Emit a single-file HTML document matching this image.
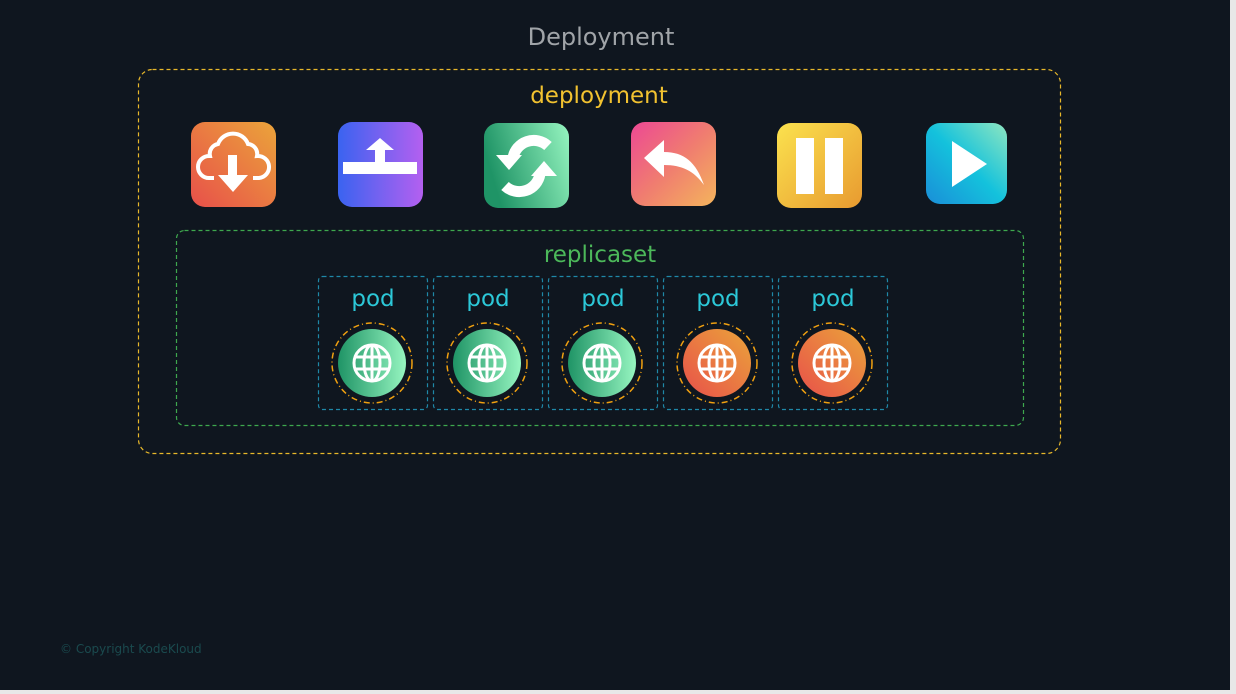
<!DOCTYPE html>
<html><head><meta charset="utf-8"><style>
html,body{margin:0;padding:0;background:#fff;}
svg{display:block;font-family:"DejaVu Sans","Liberation Sans",sans-serif;}
</style></head><body>
<svg width="1236" height="694" viewBox="0 0 1236 694" xmlns="http://www.w3.org/2000/svg">
<defs>
<linearGradient id="g1" x1="0" y1="1" x2="1" y2="0"><stop offset="0" stop-color="#e8504a"/><stop offset="1" stop-color="#eba43a"/></linearGradient>
<linearGradient id="g2" x1="0" y1="0" x2="1" y2="0"><stop offset="0" stop-color="#3a63f0"/><stop offset="1" stop-color="#b460f0"/></linearGradient>
<linearGradient id="g3" x1="0" y1="0.3" x2="1" y2="0"><stop offset="0" stop-color="#1f9466"/><stop offset="1" stop-color="#96f5c0"/></linearGradient>
<linearGradient id="g4" x1="0" y1="0" x2="1" y2="1"><stop offset="0" stop-color="#ec4894"/><stop offset="0.5" stop-color="#f07c70"/><stop offset="1" stop-color="#f4b45c"/></linearGradient>
<linearGradient id="g5" x1="0" y1="0" x2="1" y2="1"><stop offset="0" stop-color="#fbe24e"/><stop offset="1" stop-color="#e89a30"/></linearGradient>
<linearGradient id="g6" x1="0" y1="1" x2="1" y2="0"><stop offset="0" stop-color="#1a8ed8"/><stop offset="0.5" stop-color="#14c2dc"/><stop offset="1" stop-color="#8ee6c0"/></linearGradient>
<linearGradient id="pg" x1="0" y1="0" x2="1" y2="0"><stop offset="0" stop-color="#1f9466"/><stop offset="1" stop-color="#96f5c0"/></linearGradient>
<linearGradient id="po" x1="0" y1="1" x2="1" y2="0"><stop offset="0" stop-color="#e8504a"/><stop offset="1" stop-color="#eba43a"/></linearGradient>
<g id="globe" fill="none" stroke="#fff" stroke-width="3">
<circle cx="0" cy="0" r="18"/><ellipse cx="0" cy="0" rx="8" ry="18"/><line x1="0" y1="-18" x2="0" y2="18"/><line x1="-17" y1="-6" x2="17" y2="-6"/><line x1="-17" y1="6" x2="17" y2="6"/>
</g>
</defs>
<rect width="1236" height="694" fill="#e8e8e8"/>
<rect width="1230" height="690" fill="#0f161f"/>
<text x="601" y="45" font-size="24" fill="#a0a4a8" text-anchor="middle">Deployment</text>
<rect x="138.5" y="69.5" width="922" height="384" rx="14" fill="none" stroke="#e8b82a" stroke-width="1.2" stroke-dasharray="4,3"/>
<text x="599" y="103" font-size="23" fill="#f2c230" text-anchor="middle">deployment</text>
<rect x="191" y="122" width="85" height="85" rx="14" fill="url(#g1)"/>
<path d="M214 178 h-5 a11 11 0 0 1 0-22 h1 a10 10 0 0 1 8-12 a16 16 0 0 1 30 0 a10 10 0 0 1 9 12 a11 11 0 0 1 2 22 h-6" fill="none" stroke="#fff" stroke-width="4"/>
<path d="M228 155 h9 v20 h11 l-15 17 l-15-17 h10z" fill="#fff"/>
<rect x="338" y="122" width="85" height="85" rx="14" fill="url(#g2)"/>
<rect x="343" y="162" width="74" height="12" fill="#fff"/>
<path d="M375 162 v-12 h-9 l14-12 l14 12 h-9 v12z" fill="#fff"/>
<rect x="484" y="123" width="85" height="85" rx="14" fill="url(#g3)"/>
<path d="M513 158 a21 21 0 0 1 35-12" fill="none" stroke="#fff" stroke-width="11"/>
<path d="M496 155 h26 l-13 15z" fill="#fff"/>
<path d="M540 174 a21 21 0 0 1 -35 12" fill="none" stroke="#fff" stroke-width="11"/>
<path d="M531 176 h26 l-13 -15z" fill="#fff"/>
<rect x="631" y="122" width="85" height="84" rx="14" fill="url(#g4)"/>
<path d="M644 158 l20-18 v12 c20 0 32 10 40 33 c-10-14-22-20-40-20 v12z" fill="#fff"/>
<rect x="777" y="123" width="85" height="85" rx="14" fill="url(#g5)"/>
<rect x="796" y="138" width="18" height="56" fill="#fff"/><rect x="825" y="138" width="18" height="56" fill="#fff"/>
<rect x="926" y="123" width="81" height="81" rx="14" fill="url(#g6)"/>
<path d="M952 141 l35 23 l-35 23z" fill="#fff"/>
<rect x="176.5" y="230.5" width="847" height="195" rx="8" fill="none" stroke="#3ea84e" stroke-width="1.2" stroke-dasharray="4,3"/>
<text x="600" y="262" font-size="23" fill="#4cb85a" text-anchor="middle">replicaset</text>
<g font-size="23" fill="#2cc8d8" text-anchor="middle">
<g fill="none" stroke="#1f88a8" stroke-width="1.2" stroke-dasharray="4,3">
<rect x="318.5" y="276.5" width="109" height="133" rx="4"/>
<rect x="433.5" y="276.5" width="109" height="133" rx="4"/>
<rect x="548.5" y="276.5" width="109" height="133" rx="4"/>
<rect x="663.5" y="276.5" width="109" height="133" rx="4"/>
<rect x="778.5" y="276.5" width="109" height="133" rx="4"/>
</g>
<text x="373" y="306">pod</text><text x="488" y="306">pod</text><text x="603" y="306">pod</text><text x="718" y="306">pod</text><text x="833" y="306">pod</text>
</g>
<g fill="none" stroke="#f0a010" stroke-width="1.5" stroke-dasharray="6,3,1,3">
<circle cx="372" cy="363" r="40"/><circle cx="487" cy="363" r="40"/><circle cx="602" cy="363" r="40"/><circle cx="717" cy="363" r="40"/><circle cx="832" cy="363" r="40"/>
</g>
<circle cx="372" cy="363" r="34" fill="url(#pg)"/><circle cx="487" cy="363" r="34" fill="url(#pg)"/><circle cx="602" cy="363" r="34" fill="url(#pg)"/>
<circle cx="717" cy="363" r="34" fill="url(#po)"/><circle cx="832" cy="363" r="34" fill="url(#po)"/>
<use href="#globe" x="372" y="363"/><use href="#globe" x="487" y="363"/><use href="#globe" x="602" y="363"/><use href="#globe" x="717" y="363"/><use href="#globe" x="832" y="363"/>
<text x="60" y="653" font-size="12" fill="#1a4a4e">© Copyright KodeKloud</text>
</svg>
</body></html>
